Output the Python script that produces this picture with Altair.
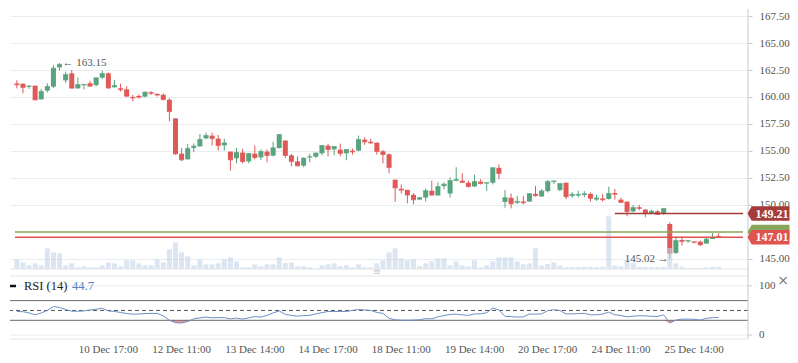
import altair as alt
import pandas as pd

opens = [161.25,161.23,160.95,161.05,159.78,160.59,160.96,162.75,161.54,162.19,
         160.80,161.10,161.27,161.10,161.79,162.19,160.90,160.80,160.71,160.00,
         160.10,160.03,160.43,160.30,160.20,159.75,158.02,154.75,154.23,155.28,
         155.43,156.17,156.42,156.14,155.52,154.94,154.32,154.85,154.04,154.75,
         154.41,154.94,154.57,155.28,155.96,154.60,154.04,153.64,154.42,154.47,
         154.79,155.49,155.15,155.12,154.79,155.03,155.03,156.05,155.86,155.77,
         154.97,154.69,152.34,151.50,151.40,150.94,150.50,150.69,151.31,150.88,
         151.75,151.06,152.25,152.25,152.06,151.72,152.16,152.00,152.06,153.44,
         150.28,150.66,150.22,150.31,150.31,151.03,150.78,151.28,152.16,151.38,
         152.06,150.84,150.88,150.94,151.03,150.50,150.60,150.56,151.10,150.49,
         150.31,149.41,149.78,149.57,149.23,149.41,149.17,148.24,145.56,146.76,
         146.64,146.60,146.60,146.42,146.85,147.10]
highs = [161.55,161.25,161.10,161.05,160.74,161.27,162.96,163.15,162.35,162.50,
         161.79,161.20,161.50,161.80,162.44,162.28,161.60,161.23,160.99,160.20,
         160.25,160.52,160.55,160.30,160.33,159.90,158.05,155.28,155.65,155.71,
         156.57,156.70,156.70,156.48,156.14,154.94,155.28,155.20,154.81,155.50,
         155.15,155.15,155.86,156.55,156.00,154.72,154.50,154.41,154.75,154.85,
         155.55,155.68,155.42,155.68,155.12,155.22,156.42,156.27,156.14,155.77,
         155.10,154.78,152.34,151.90,151.40,151.10,150.75,151.53,152.25,152.10,
         152.10,152.56,153.50,152.94,152.25,152.81,152.38,152.10,153.44,153.75,
         151.38,151.06,150.84,150.84,151.10,151.78,151.47,152.31,152.22,152.03,
         152.06,151.19,151.31,151.28,151.16,150.94,151.00,151.69,151.48,150.68,
         150.31,150.00,150.00,149.63,149.54,149.54,149.66,148.40,147.07,147.07,
         146.70,146.60,146.70,146.98,147.40,147.38]
lows = [160.80,160.34,160.75,159.70,159.75,160.43,160.83,162.45,161.30,160.80,
        160.74,160.70,160.95,160.99,161.67,160.74,160.87,160.50,159.97,159.60,
        159.85,159.97,160.20,160.05,159.69,157.75,154.65,154.06,154.20,154.88,
        155.40,156.08,155.50,155.03,155.03,153.18,153.86,153.86,153.86,154.23,
        154.17,153.95,154.50,155.22,154.35,153.58,153.58,153.49,153.95,154.35,
        154.60,154.50,154.60,154.50,154.14,154.66,154.97,155.58,155.65,154.66,
        153.86,152.93,150.28,151.06,150.16,150.06,150.44,150.31,150.84,150.88,
        151.44,150.69,152.19,152.10,151.62,151.66,151.90,151.30,151.90,152.40,
        149.75,149.69,150.06,150.06,150.31,150.78,150.78,151.16,151.94,151.28,
        150.53,150.63,150.69,150.72,150.31,150.38,150.31,150.50,150.50,150.19,
        148.95,149.32,149.50,148.86,149.23,149.07,149.07,145.02,145.46,146.23,
        146.50,146.45,146.20,146.42,146.85,147.00]
closes = [161.15,160.90,161.00,159.75,160.50,160.96,162.65,163.00,162.07,160.83,
          161.14,161.15,161.02,161.76,162.16,160.86,161.05,160.70,160.09,159.94,
          160.00,160.43,160.35,160.20,159.78,158.67,154.75,154.20,155.22,155.43,
          156.05,156.42,156.17,155.52,155.74,154.20,154.85,154.04,154.75,154.41,
          154.94,154.60,155.28,156.51,154.60,154.04,153.64,154.32,154.46,154.79,
          155.49,155.15,155.40,154.79,155.12,154.94,156.05,155.86,155.77,154.97,
          154.69,153.49,151.60,151.40,150.94,150.50,150.66,151.31,150.94,151.69,
          151.91,152.25,152.35,152.10,151.72,152.16,152.00,152.06,153.44,152.94,
          150.66,150.13,150.31,150.22,151.03,150.88,151.28,152.16,152.22,151.97,
          150.78,150.97,150.97,151.03,150.63,150.63,150.50,151.06,151.00,150.25,
          149.41,149.75,149.69,149.23,149.41,149.14,149.66,145.55,146.70,146.64,
          146.70,146.55,146.33,146.82,146.94,147.01]
volumes = [243,168,93,143,93,518,418,393,93,143,
           43,68,43,43,93,168,143,68,218,218,
           143,93,93,243,168,493,668,418,318,93,
           243,118,118,143,243,293,193,43,43,118,
           68,118,118,293,150,168,68,68,43,18,
           93,118,143,68,93,43,118,43,43,143,
           218,418,518,268,218,243,68,143,193,268,
           268,93,193,93,68,218,43,93,193,293,
           293,293,193,118,143,518,83,125,168,83,
           43,50,50,50,58,43,58,1318,93,68,
           225,150,50,50,50,50,50,525,143,58,
           25,25,25,43,58,58]
rsi = [48,47.5,45,41,45,50,58,56,52,48.5,
       48.5,49,51,52.5,54.5,49,48,46,43.5,42.5,
       42.8,43.7,44,44,39,30,25,24.5,27.5,33,
       35,36.5,35,35.5,35.5,33,34.5,32.5,35,37.5,
       36.5,40,45,49,42,40,38.5,39.5,40,43,
       45.5,48,47.7,48,48,50,52,51,50,46,
       44,34,31,30.3,30.1,30.4,31,33.5,33,37,
       39.5,42,42.5,41,40,43,43,45.5,55,51,
       38,37.5,36.5,37,42.6,42.6,43,49.5,51.4,50,
       43,43,43.5,44,41.2,41.2,42.6,46.6,41.2,39.9,
       37,38.5,39.2,39,38,37.8,41,24.5,30.4,32.4,
       32.4,32,30.5,34,35.5,35.8]

grid_idx = [3, 15, 27, 39, 51, 63, 75, 87, 99, 111]
tick_idx = [15, 27, 39, 51, 63, 75, 87, 99, 111]
tick_labels = ["10 Dec 17:00", "12 Dec 11:00", "13 Dec 14:00", "14 Dec 17:00",
               "18 Dec 11:00", "19 Dec 14:00", "20 Dec 17:00", "24 Dec 11:00", "25 Dec 14:00"]
price_ticks = [145.0, 150.0, 152.5, 155.0, 157.5, 160.0, 162.5, 165.0, 167.5]
rsi_ticks = [0, 100]
rsi_bands = [70, 30]
rsi_mid = [50]

level_prices = [147.5, 149.21, 147.01]
level_labels = ["", "149.21", "147.01"]
level_colors = ["#8aa65a", "#a43d3a", "#e0534f"]

hi_idx, hi_val = 7, 163.15
lo_idx, lo_val = 107, 145.02
rsi_label = "RSI (14)"
rsi_value_label = "44.7"

FONT = "Liberation Serif"
UP, DOWN = "#58a47e", "#e05957"
GRID = "#e9ecf0"
AXC = "#c5cad1"

df = pd.DataFrame({"i": list(range(len(opens))), "open": opens, "high": highs,
                   "low": lows, "close": closes, "vol": volumes, "rsi": rsi})

xs = alt.Scale(domain=[-0.3, 119], nice=False, zero=False)
ys = alt.Scale(domain=[144.07, 168.15], range=[260, 0], nice=False, zero=False)
vs = alt.Scale(domain=[0, 6500], range=[260, 0], nice=False, zero=True)
rs = alt.Scale(domain=[-8, 120], range=[330, 267], nice=False, zero=False)

x_main = alt.X("i:Q", scale=xs, title=None,
               axis=alt.Axis(values=grid_idx, labels=False, ticks=False, domain=False,
                             grid=True, gridColor=GRID))
x_plain = alt.X("i:Q", scale=xs, axis=None)

color_cond = alt.condition("datum.close >= datum.open", alt.value(UP), alt.value(DOWN))

base = alt.Chart(df)
wicks = base.mark_rule(strokeWidth=1).encode(
    x=x_main,
    y=alt.Y("low:Q", scale=ys, title=None,
            axis=alt.Axis(orient="right", values=price_ticks, format=".2f", grid=True,
                          gridColor=GRID, tickColor=AXC, tickSize=4, domain=False,
                          labelFont=FONT, labelFontSize=11, labelColor="#555",
                          labelPadding=7)),
    y2="high:Q", color=color_cond)
bodies = base.mark_bar(size=5).encode(
    x=x_plain, y=alt.Y("open:Q", scale=ys, axis=None), y2="close:Q", color=color_cond)
dojis = base.mark_tick(orient="horizontal", size=5, thickness=1.4).encode(
    x=x_plain, y=alt.Y("close:Q", scale=ys, axis=None), color=color_cond)
vol = base.mark_bar(size=5, color="#c3d6ea", opacity=0.6).encode(
    x=x_plain, y=alt.Y("vol:Q", scale=vs, axis=None))

lv = pd.DataFrame({"price": level_prices, "label": level_labels, "color": level_colors,
                   "start": [-0.3, 98, -0.3], "end": [119, 119, 119]})
lbase = alt.Chart(lv)
level_rules = lbase.mark_rule(strokeWidth=1.5).encode(
    x=alt.X("start:Q", scale=xs, axis=None), x2="end:Q",
    y=alt.Y("price:Q", scale=ys, axis=None),
    color=alt.Color("color:N", scale=None))
tag_path = "M -1 0 L -0.8 -0.34 L 1 -0.34 L 1 0.34 L -0.8 0.34 Z"
box_tag = lbase.mark_point(shape=tag_path, filled=True, size=1764, opacity=1,
                           strokeWidth=0, xOffset=20.5).encode(
    x=alt.value("width"), y=alt.Y("price:Q", scale=ys, axis=None),
    color=alt.Color("color:N", scale=None))
box_text = lbase.mark_text(font=FONT, fontSize=12, fontWeight="bold", color="white",
                           align="center", baseline="middle", dx=24).encode(
    x=alt.value("width"), y=alt.Y("price:Q", scale=ys, axis=None), text="label:N")

ann = pd.DataFrame({"i": [hi_idx, lo_idx], "p": [hi_val, lo_val],
                    "t": [f"\u2190 {hi_val:.2f}", f"{lo_val:.2f} \u2192"]})
ann_hi = alt.Chart(ann.iloc[[0]]).mark_text(font=FONT, fontSize=11, color="#555", align="left",
                                            baseline="middle", dx=3).encode(
    x=x_plain, y=alt.Y("p:Q", scale=ys, axis=None), text="t:N")
ann_lo = alt.Chart(ann.iloc[[1]]).mark_text(font=FONT, fontSize=11, color="#555", align="right",
                                            baseline="middle", dx=-1).encode(
    x=x_plain, y=alt.Y("p:Q", scale=ys, axis=None), text="t:N")

one = df.iloc[[0]]
axis_line = alt.Chart(one).mark_rule(color=AXC).encode(
    x=alt.value("width"), y=alt.value(0), y2=alt.value("height"))
main_bottom = alt.Chart(one).mark_rule(color="#e1e4e8").encode(y=alt.value(260))
handle = alt.Chart(one).mark_text(font="DejaVu Sans", fontSize=10, color="#c8ccd2",
                                  align="center", baseline="middle", text="\u2261").encode(
    x=alt.value(367), y=alt.value(263))

# time labels under the RSI panel
tl = pd.DataFrame({"i": tick_idx, "t": tick_labels})
time_labels = alt.Chart(tl).mark_text(font=FONT, fontSize=11, color="#555", align="center",
                                      baseline="middle", dy=11).encode(
    x=x_plain, y=alt.value("height"), text="t:N")

# RSI panel (own y scale inside the same layered chart)
rt = pd.DataFrame({"v": rsi_ticks, "t": [str(v) for v in rsi_ticks]})
rsi_grid = alt.Chart(rt).mark_rule(color=GRID).encode(y=alt.Y("v:Q", scale=rs, axis=None))
rsi_tick = alt.Chart(rt).mark_rule(color=AXC, x2Offset=4).encode(
    x=alt.value("width"), x2=alt.value("width"), y=alt.Y("v:Q", scale=rs, axis=None))
rsi_lab = alt.Chart(rt).mark_text(font=FONT, fontSize=11, color="#555", align="left",
                                  baseline="middle", dx=11).encode(
    x=alt.value("width"), y=alt.Y("v:Q", scale=rs, axis=None), text="t:N")
rsi_fill = base.transform_calculate(lowv="min(datum.rsi, 30)").mark_area(
    color="#f08a8a", opacity=0.9).encode(
    x=x_plain, y=alt.Y("lowv:Q", scale=rs, axis=None), y2=alt.datum(30))
band_rules = alt.Chart(pd.DataFrame({"v": rsi_bands})).mark_rule(
    color="#6a6a6a", strokeWidth=1).encode(y=alt.Y("v:Q", scale=rs, axis=None))
mid_rule = alt.Chart(pd.DataFrame({"v": rsi_mid})).mark_rule(
    color="#555", strokeWidth=1, strokeDash=[4, 3]).encode(y=alt.Y("v:Q", scale=rs, axis=None))
rsi_line = base.mark_line(color="#6d8fc7", strokeWidth=1).encode(
    x=x_plain, y=alt.Y("rsi:Q", scale=rs, axis=None))
frame_top = alt.Chart(one).mark_rule(color="#e1e4e8").encode(y=alt.value(267))
frame_bot = alt.Chart(one).mark_rule(color="#e1e4e8").encode(y=alt.value("height"))
leg_dash = alt.Chart(one).mark_rule(color="#111", strokeWidth=2.5).encode(
    x=alt.value(0), x2=alt.value(6), y=alt.value(277))
leg_text = alt.Chart(one).mark_text(font=FONT, fontSize=12.5, color="#222", align="left",
                                    baseline="middle", text=rsi_label).encode(
    x=alt.value(14), y=alt.value(277))
leg_val = alt.Chart(one).mark_text(font=FONT, fontSize=12.5, color="#4f7fc0", align="left",
                                   baseline="middle", text=rsi_value_label).encode(
    x=alt.value(62), y=alt.value(277))
close_x = alt.Chart(one).mark_text(font="DejaVu Sans", fontSize=14, color="#777",
                                   align="center", baseline="middle", text="\u00d7",
                                   dx=35).encode(
    x=alt.value("width"), y=alt.value(272))

chart = alt.layer(
    wicks, bodies, dojis, vol, level_rules, ann_hi, ann_lo, main_bottom, handle,
    rsi_grid, rsi_fill, band_rules, mid_rule, rsi_line, frame_top, frame_bot,
    leg_dash, leg_text, leg_val, rsi_tick, rsi_lab, close_x, time_labels,
    axis_line, box_tag, box_text
).resolve_scale(y="independent").properties(
    width=782, height=347, padding=0,
    autosize=alt.AutoSizeParams(type="fit", contains="padding")
).configure(font=FONT).configure_view(stroke=None)

chart.save("out.html", embed_options={"renderer": "svg", "actions": False})
